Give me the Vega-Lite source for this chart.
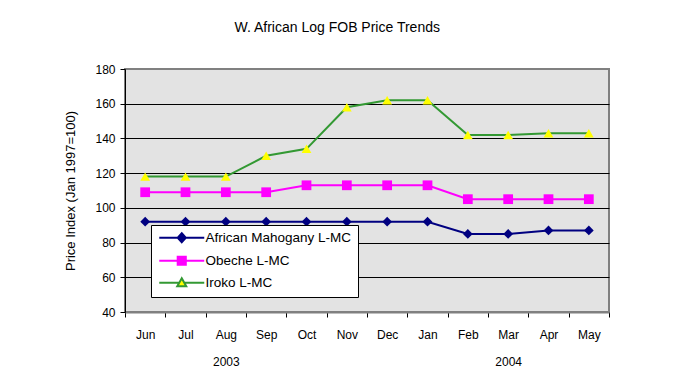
{
  "$schema": "https://vega.github.io/schema/vega-lite/v6.json",
  "width": 484,
  "height": 243,
  "autosize": {"type": "none"},
  "padding": {"left": 125, "top": 69, "right": 67, "bottom": 79},
  "background": "white",
  "title": {"text": "W. African Log FOB Price Trends", "frame": "bounds", "anchor": "middle", "font": "Liberation Sans", "fontSize": 14, "fontWeight": "normal", "offset": 28, "color": "black"},
  "config": {"view": {"fill": "#E3E3E3", "stroke": "#808080", "strokeWidth": 2}, "font": "Liberation Sans"},
  "data": {"values": [
    {"month": "Jun", "species": "African Mahogany L-MC", "value": 92},
    {"month": "Jul", "species": "African Mahogany L-MC", "value": 92},
    {"month": "Aug", "species": "African Mahogany L-MC", "value": 92},
    {"month": "Sep", "species": "African Mahogany L-MC", "value": 92},
    {"month": "Oct", "species": "African Mahogany L-MC", "value": 92},
    {"month": "Nov", "species": "African Mahogany L-MC", "value": 92},
    {"month": "Dec", "species": "African Mahogany L-MC", "value": 92},
    {"month": "Jan", "species": "African Mahogany L-MC", "value": 92},
    {"month": "Feb", "species": "African Mahogany L-MC", "value": 85},
    {"month": "Mar", "species": "African Mahogany L-MC", "value": 85},
    {"month": "Apr", "species": "African Mahogany L-MC", "value": 87},
    {"month": "May", "species": "African Mahogany L-MC", "value": 87},
    {"month": "Jun", "species": "Obeche L-MC", "value": 109},
    {"month": "Jul", "species": "Obeche L-MC", "value": 109},
    {"month": "Aug", "species": "Obeche L-MC", "value": 109},
    {"month": "Sep", "species": "Obeche L-MC", "value": 109},
    {"month": "Oct", "species": "Obeche L-MC", "value": 113},
    {"month": "Nov", "species": "Obeche L-MC", "value": 113},
    {"month": "Dec", "species": "Obeche L-MC", "value": 113},
    {"month": "Jan", "species": "Obeche L-MC", "value": 113},
    {"month": "Feb", "species": "Obeche L-MC", "value": 105},
    {"month": "Mar", "species": "Obeche L-MC", "value": 105},
    {"month": "Apr", "species": "Obeche L-MC", "value": 105},
    {"month": "May", "species": "Obeche L-MC", "value": 105},
    {"month": "Jun", "species": "Iroko L-MC", "value": 118},
    {"month": "Jul", "species": "Iroko L-MC", "value": 118},
    {"month": "Aug", "species": "Iroko L-MC", "value": 118},
    {"month": "Sep", "species": "Iroko L-MC", "value": 130},
    {"month": "Oct", "species": "Iroko L-MC", "value": 134},
    {"month": "Nov", "species": "Iroko L-MC", "value": 158},
    {"month": "Dec", "species": "Iroko L-MC", "value": 162},
    {"month": "Jan", "species": "Iroko L-MC", "value": 162},
    {"month": "Feb", "species": "Iroko L-MC", "value": 142},
    {"month": "Mar", "species": "Iroko L-MC", "value": 142},
    {"month": "Apr", "species": "Iroko L-MC", "value": 143},
    {"month": "May", "species": "Iroko L-MC", "value": 143}
  ]},
  "encoding": {
    "x": {
      "field": "month", "type": "ordinal", "bandPosition": 0.5,
      "sort": ["Jun", "Jul", "Aug", "Sep", "Oct", "Nov", "Dec", "Jan", "Feb", "Mar", "Apr", "May"],
      "scale": {"type": "band", "paddingInner": 0, "paddingOuter": 0},
      "axis": {
        "title": null, "tickBand": "extent", "labelAngle": 0, "grid": false,
        "labelFont": "Liberation Sans", "labelFontSize": 12, "labelColor": "black",
        "tickColor": "black", "tickSize": 5, "domainColor": "#808080", "domainWidth": 2,
        "labelPadding": 12, "labelLineHeight": 27,
        "labelExpr": "datum.value === 'Aug' ? ['Aug', '2003'] : datum.value === 'Mar' ? ['Mar', '2004'] : datum.value"
      }
    },
    "y": {
      "field": "value", "type": "quantitative",
      "scale": {"domain": [40, 180], "nice": false, "zero": false},
      "axis": {
        "title": "Price Index (Jan 1997=100)",
        "values": [40, 60, 80, 100, 120, 140, 160, 180],
        "grid": true,
        "gridColor": {"condition": {"test": "datum.value === 40 || datum.value === 180", "value": "#808080"}, "value": "black"},
        "gridOpacity": 1, "gridWidth": 1,
        "domainColor": "black", "tickColor": "black", "tickSize": 5,
        "labelFont": "Liberation Sans", "labelFontSize": 12, "labelColor": "black", "labelPadding": 5,
        "titleFont": "Liberation Sans", "titleFontSize": 13, "titleFontWeight": "normal", "titleColor": "black", "titlePadding": 17
      }
    }
  },
  "layer": [
    {
      "mark": {"type": "line", "strokeWidth": 2},
      "encoding": {
        "color": {
          "field": "species", "type": "nominal",
          "scale": {"domain": ["African Mahogany L-MC", "Obeche L-MC", "Iroko L-MC"], "range": ["#000080", "#FF00FF", "#339933"]},
          "legend": {
            "title": null, "orient": "none", "legendX": 26, "legendY": 156,
            "fillColor": "white", "strokeColor": "black", "padding": 6, "cornerRadius": 0,
            "labelFont": "Liberation Sans", "labelFontSize": 13.5, "labelColor": "black",
            "labelOffset": 35, "rowPadding": 5, "symbolSize": 81, "symbolStrokeWidth": 2,
            "encode": {
              "symbols": {
                "update": {
                  "shape": {"signal": "datum.value === 'African Mahogany L-MC' ? 'M-1,0L3.1,0M4.9,0L9,0M4,-1L4.9,0L4,1L3.1,0Z' : datum.value === 'Obeche L-MC' ? 'M-1,0L3.1,0M4.9,0L9,0M3.1,-0.9L4.9,-0.9L4.9,0.9L3.1,0.9Z' : 'M-1,0L3.4,0M4.6,0L9,0M4,-1L5,0.8L3,0.8Z'"},
                  "fill": {"signal": "datum.value === 'African Mahogany L-MC' ? '#000080' : datum.value === 'Obeche L-MC' ? '#FF00FF' : '#FFFF00'"},
                  "stroke": {"signal": "datum.value === 'African Mahogany L-MC' ? '#000080' : datum.value === 'Obeche L-MC' ? '#FF00FF' : '#339933'"},
                  "strokeWidth": {"value": 2},
                  "opacity": {"value": 1}
                }
              }
            }
          }
        }
      }
    },
    {
      "mark": {"type": "point", "filled": true, "size": 95, "opacity": 1},
      "encoding": {
        "fill": {
          "condition": [
            {"test": "datum.species === 'Obeche L-MC'", "value": "#FF00FF"},
            {"test": "datum.species === 'Iroko L-MC'", "value": "#FFFF00"}
          ],
          "value": "#000080"
        },
        "shape": {
          "condition": [
            {"test": "datum.species === 'Obeche L-MC'", "value": "square"},
            {"test": "datum.species === 'Iroko L-MC'", "value": "triangle-up"}
          ],
          "value": "diamond"
        }
      }
    }
  ]
}
